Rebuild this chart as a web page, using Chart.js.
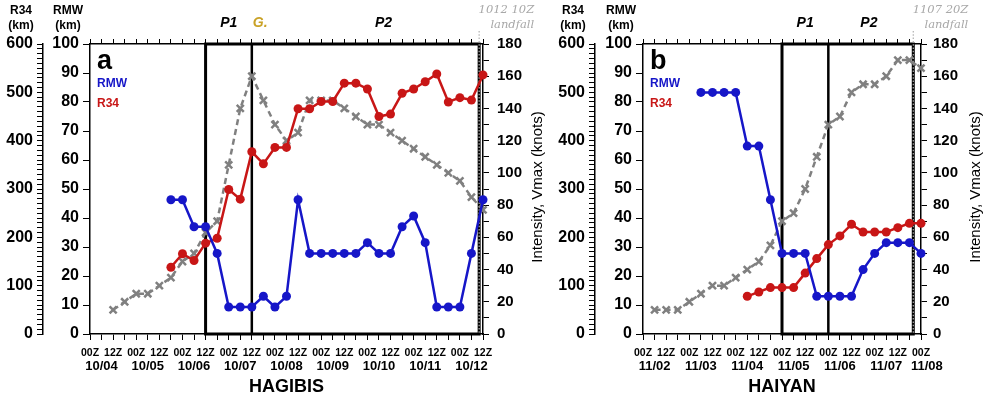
<!DOCTYPE html>
<html><head><meta charset="utf-8">
<script src="https://cdn.jsdelivr.net/npm/chart.js@4.4.1/dist/chart.umd.min.js"></script>
<style>
html,body{margin:0;padding:0;background:#fff;}
#wrap{position:relative;width:985px;height:396px;overflow:hidden;background:#fff;}
canvas{position:absolute;top:0;}
#ca{left:0;} #cb{left:550px;}
</style></head><body>
<div id="wrap"><canvas id="ca" width="550" height="396"></canvas><canvas id="cb" width="435" height="396"></canvas></div>
<script>
// ---- data (6-hourly slots) ----
const hourLabels = ['00Z', '12Z'];

const hagibisDates = ['10/04','10/05','10/06','10/07','10/08','10/09','10/10','10/11','10/12'];
const hagibisVmax = [null,null,15,20,25,25,30,35,45,50,63,70,105,140,160,145,130,120,125,145,145,145,140,135,130,130,125,120,115,110,105,100,95,85,77];
const hagibisRMW  = [null,null,null,null,null,null,null,46.3,46.3,37.0,37.0,27.8,9.3,9.3,9.3,13.0,9.3,13.0,46.3,27.8,27.8,27.8,27.8,27.8,31.5,27.8,27.8,37.0,40.7,31.5,9.3,9.3,9.3,27.8,46.3];
const hagibisR34  = [null,null,null,null,null,null,null,138,166,152,188,198,299,279,377,352,386,386,466,466,481,481,519,519,507,450,455,498,507,522,538,480,489,484,536];
const hagibisEvents = {p1: 10, g: 14, landfall: 202/6};   // 12Z 10/06, 12Z 10/07, 10Z 10/12

const haiyanDates = ['11/02','11/03','11/04','11/05','11/06','11/07','11/08'];
const haiyanVmax = [null,15,15,15,20,25,30,30,35,40,45,55,70,75,90,110,130,135,150,155,155,160,170,170,165];
const haiyanRMW  = [null,null,null,null,null,83.3,83.3,83.3,83.3,64.8,64.8,46.3,27.8,27.8,27.8,13.0,13.0,13.0,13.0,22.2,27.8,31.5,31.5,31.5,27.8];
const haiyanR34  = [null,null,null,null,null,null,null,null,null,78,87,96,96,96,126,156,185,203,227,211,211,211,220,229,229];
const haiyanEvents = {p1: 12, g: 16, landfall: 140/6};    // 00Z 11/05, 00Z 11/06, 20Z 11/07

const BLUE = '#1616c8', RED = '#c81616', GRAY = '#808080', GOLD = '#c9a227';
const FONT = '"Liberation Sans", Arial, Helvetica, sans-serif';

function decoPlugin(p) {
  return {
    id: 'deco',
    beforeDatasetsDraw(chart) {
      const {ctx, chartArea: ca, scales: {x}} = chart;
      const x1 = x.getPixelForValue(p.ev.p1), xg = x.getPixelForValue(p.ev.g), xl = x.getPixelForValue(p.ev.landfall);
      ctx.save();
      ctx.strokeStyle = '#000'; ctx.lineWidth = 3;
      ctx.strokeRect(x1, ca.top, xl - x1, ca.bottom - ca.top);
      ctx.lineWidth = 2.5;
      ctx.beginPath(); ctx.moveTo(xg, ca.top); ctx.lineTo(xg, ca.bottom); ctx.stroke();
      ctx.strokeStyle = '#b0b0b0'; ctx.lineWidth = 1.2; ctx.setLineDash([1.5, 1.8]);
      ctx.beginPath(); ctx.moveTo(xl, 31); ctx.lineTo(xl, ca.bottom); ctx.stroke();
      ctx.restore();
    },
    afterDraw(chart) {
      const {ctx, chartArea: ca, scales} = chart;
      const x = scales.x;
      ctx.save();
      ctx.textBaseline = 'middle';
      // period labels
      ctx.font = 'italic bold 14px ' + FONT;
      p.labels.forEach(l => {
        ctx.fillStyle = l.color; ctx.textAlign = l.align;
        ctx.fillText(l.text, x.getPixelForValue(l.at) + (l.dx || 0), 23);
      });
      // landfall note
      const xl = x.getPixelForValue(p.ev.landfall);
      ctx.font = 'italic 11.5px "DejaVu Serif", serif';
      ctx.fillStyle = '#a8a8a8'; ctx.textAlign = 'right';
      ctx.fillText(p.landfallText, xl + 55, 10);
      ctx.fillText('landfall', xl + 55, 25);
      // axis unit titles
      ctx.fillStyle = '#000'; ctx.textAlign = 'center';
      ctx.font = 'bold 12px ' + FONT;
      const xr = scales.r34.right - 22, xm = scales.rmw.right - 22;
      ctx.fillText('R34', xr, 11); ctx.fillText('(km)', xr, 25.5);
      ctx.fillText('RMW', xm, 11); ctx.fillText('(km)', xm, 25.5);
      // right title
      ctx.save();
      ctx.translate(scales.vmax.left + 55, (ca.top + ca.bottom) / 2 - 2);
      ctx.rotate(-Math.PI / 2);
      ctx.font = '15px ' + FONT;
      ctx.fillText('Intensity, Vmax (knots)', 0, 0);
      ctx.restore();
      // panel letter & legend
      ctx.textAlign = 'left'; ctx.textBaseline = 'alphabetic';
      ctx.font = 'bold 27px ' + FONT;
      ctx.fillText(p.letter, ca.left + 7, 69);
      ctx.font = 'bold 12px ' + FONT;
      ctx.fillStyle = BLUE; ctx.fillText('RMW', ca.left + 7, 87);
      ctx.fillStyle = RED; ctx.fillText('R34', ca.left + 7, 106.5);
      ctx.restore();
    }
  };
}

function makePanel(id, p) {
  const N = p.vmax.length - 1;
  const pts = arr => arr.map((v, i) => ({x: i, y: v})).filter(o => o.y !== null);
  const tickFont = {family: FONT, size: 16, weight: 'bold'};
  new Chart(document.getElementById(id), {
    type: 'line',
    data: {datasets: [
      {label: 'RMW', data: pts(p.rmw), yAxisID: 'rmw', borderColor: BLUE, backgroundColor: BLUE,
       borderWidth: 2.5, pointRadius: 4.5, pointBorderWidth: 0, pointBackgroundColor: BLUE, clip: false},
      {label: 'R34', data: pts(p.r34), yAxisID: 'r34', borderColor: RED, backgroundColor: RED,
       borderWidth: 2.5, pointRadius: 4.5, pointBorderWidth: 0, pointBackgroundColor: RED, clip: false},
      {label: 'Vmax', data: pts(p.vmax), yAxisID: 'vmax', borderColor: GRAY, backgroundColor: GRAY,
       borderDash: [6, 4], borderWidth: 2.5, pointStyle: 'crossRot', pointRadius: 5,
       pointBorderWidth: 2.5, pointBorderColor: GRAY, clip: false}
    ]},
    options: {
      responsive: false, animation: false, devicePixelRatio: 1,
      layout: {padding: {top: 39, left: 0, right: 0, bottom: 0}},
      plugins: {legend: {display: false}, tooltip: {enabled: false}},
      scales: {
        x: {type: 'linear', position: 'bottom', min: 0, max: N, weight: 0,
          ticks: {stepSize: 1, autoSkip: false, maxRotation: 0, padding: 7, color: '#000',
            font: {family: FONT, size: 10.5, weight: 'bold'},
            callback: v => v % 4 === 0 ? hourLabels[0] : (v % 4 === 2 ? hourLabels[1] : '')},
          grid: {drawOnChartArea: false, tickLength: 6, tickColor: '#000', tickWidth: 1},
          border: {color: '#000', width: 1.5},
          afterFit: s => { s.height = 22; }},
        x2: {type: 'linear', position: 'bottom', min: 0, max: N, weight: 1,
          afterBuildTicks: s => { s.ticks = p.dates.map((d, k) => ({value: Math.min(4 * k + 1, N + 0.5)})); },
          ticks: {autoSkip: false, maxRotation: 0, padding: 3, color: '#000',
            font: {family: FONT, size: 13, weight: 'bold'},
            callback: (v, i) => p.dates[i]},
          grid: {display: false, drawTicks: false, tickLength: 0}, border: {display: false},
          title: {display: true, text: p.name, color: '#000', padding: {top: 0, bottom: 0},
            font: {family: FONT, size: 18, weight: 'bold', lineHeight: 1}},
          afterFit: s => { s.height = 40; }},
        xt: {type: 'linear', position: 'top', min: 0, max: N,
          ticks: {display: false, stepSize: 1, autoSkip: false},
          grid: {drawOnChartArea: false, tickLength: 5, tickColor: '#000'},
          border: {color: '#000', width: 1.5},
          afterFit: s => { s.height = 5; }},
        rmw: {type: 'linear', position: 'left', min: 0, max: 100, weight: 0,
          ticks: {stepSize: 10, autoSkip: false, padding: 4, color: '#000', font: tickFont},
          grid: {drawOnChartArea: false, tickLength: 7, tickColor: '#000'},
          border: {color: '#000', width: 1.5},
          afterFit: s => { s.width = p.rmwW; }},
        r34: {type: 'linear', position: 'left', min: 0, max: 600, weight: 1,
          ticks: {stepSize: 10, autoSkip: false, padding: 4, color: '#000', font: tickFont,
            callback: v => v % 100 === 0 ? v : ''},
          grid: {drawOnChartArea: false, tickLength: 6, tickColor: '#000'},
          border: {color: '#000', width: 1.5},
          afterFit: s => { s.width = p.r34W; }},
        vmax: {type: 'linear', position: 'right', min: 0, max: 180,
          ticks: {stepSize: 10, autoSkip: false, padding: p.vPad, color: '#000',
            font: {family: FONT, size: 15, weight: 'bold'},
            callback: v => v % 20 === 0 ? v : ''},
          grid: {drawOnChartArea: false, tickLength: 6, tickColor: '#000'},
          border: {color: '#000', width: 1.5},
          afterFit: s => { s.width = p.vW; }}
      }
    },
    plugins: [decoPlugin(p)]
  });
}

makePanel('ca', {name: 'HAGIBIS', letter: 'a', dates: hagibisDates, vmax: hagibisVmax, rmw: hagibisRMW, r34: hagibisR34,
  ev: hagibisEvents, landfallText: '1012 10Z', r34W: 43, rmwW: 47, vW: 67, vPad: 8,
  labels: [{text: 'P1', at: 12, color: '#000', align: 'center'},
           {text: 'G.', at: 14, dx: 1, color: GOLD, align: 'left'},
           {text: 'P2', at: 25.4, color: '#000', align: 'center'}]});

makePanel('cb', {name: 'HAIYAN', letter: 'b', dates: haiyanDates, vmax: haiyanVmax, rmw: haiyanRMW, r34: haiyanR34,
  ev: haiyanEvents, landfallText: '1107 20Z', r34W: 45, rmwW: 48, vW: 64, vPad: 6,
  labels: [{text: 'P1', at: 14, color: '#000', align: 'center'},
           {text: 'P2', at: 19.5, color: '#000', align: 'center'}]});
</script>
</body></html>
